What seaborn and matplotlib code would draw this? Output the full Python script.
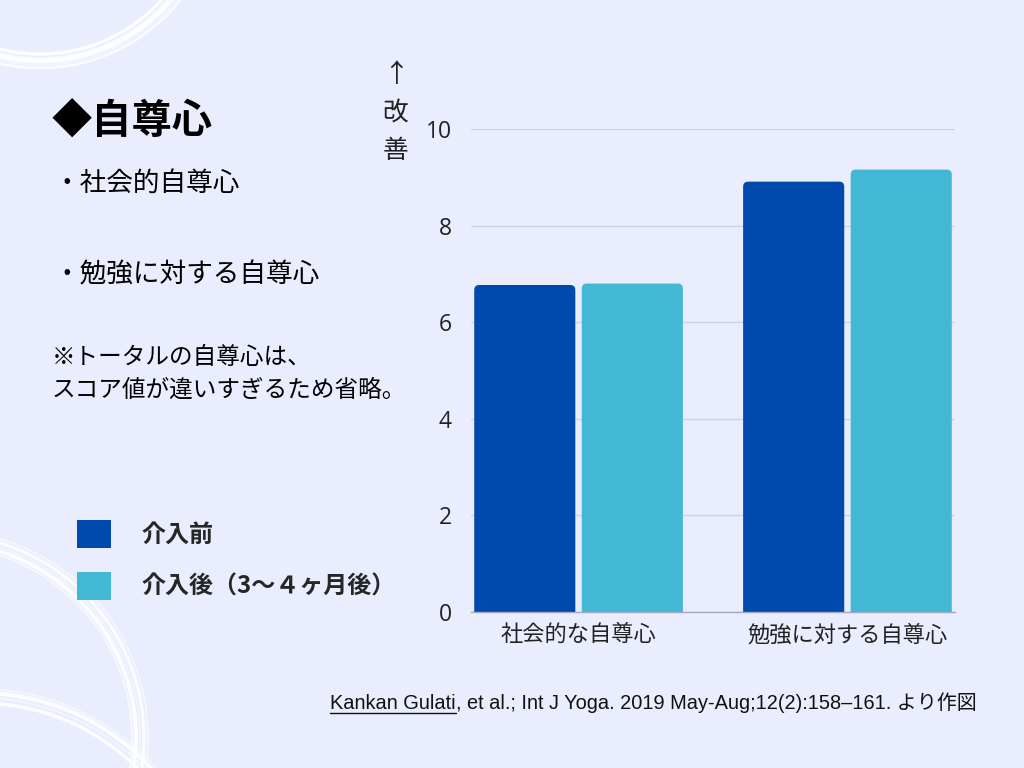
import matplotlib
matplotlib.use("Agg")
import matplotlib.pyplot as plt
import seaborn as sns
import pandas as pd
from matplotlib.patches import Circle, FancyBboxPatch
from matplotlib.lines import Line2D

# ---------------- data ----------------
categories = ["社会的な自尊心", "勉強に対する自尊心"]
series_names = ["介入前", "介入後（3～４ヶ月後）"]
before_values = [6.77, 8.91]
after_values = [6.80, 9.16]
y_ticks = [0, 2, 4, 6, 8, 10]
colors = ["#004aad", "#42b8d5"]

title_text = "◆自尊心"
bullet_1 = "・社会的自尊心"
bullet_2 = "・勉強に対する自尊心"
note_1 = "※トータルの自尊心は、"
note_2 = "スコア値が違いすぎるため省略。"
ylabel_text = "↑\n改\n善"
cite_author = "Kankan Gulati"
cite_rest = ", et al.; Int J Yoga. 2019 May-Aug;12(2):158–161. より作図"

BG = "#e9edfd"
JP = ["Noto Sans CJK JP", "DejaVu Sans"]
CITE = ["Liberation Sans", "Noto Sans CJK JP", "DejaVu Sans"]

sns.set_theme(style="white")
plt.rcParams["font.family"] = JP
plt.rcParams["axes.unicode_minus"] = False

df = pd.DataFrame({
    "category": categories * 2,
    "series": [series_names[0]] * len(categories) + [series_names[1]] * len(categories),
    "value": before_values + after_values,
})

W, H = 1024, 768
fig = plt.figure(figsize=(W / 100, H / 100), dpi=100, facecolor=BG)


def fx(px):
    return px / W


def fy(py):
    return 1 - py / H


# ---------------- decorative brush circles ----------------
deco = fig.add_axes([0, 0, 1, 1], zorder=0)
deco.set_xlim(0, W)
deco.set_ylim(H, 0)
deco.axis("off")
deco.patch.set_alpha(0)

rings = [
    ((40, -110), [164, 168, 171, 175, 178], [2.5, 1.2, 3.5, 1.0, 2.0], [0.9, 0.7, 0.95, 0.6, 0.8]),
    ((-60, 738), [192, 196, 200, 204, 208], [1.2, 3.0, 1.0, 2.5, 1.2], [0.7, 0.9, 0.6, 0.85, 0.6]),
    ((-20, 925), [222, 227, 232, 236], [2.5, 1.0, 3.0, 1.2], [0.85, 0.6, 0.9, 0.6]),
]
for (cx, cy), radii, lws, alphas in rings:
    for r, lw, a in zip(radii, lws, alphas):
        deco.add_patch(Circle((cx, cy), r, fill=False, edgecolor="white", lw=lw, alpha=a))

# ---------------- main bar chart ----------------
ax = fig.add_axes([fx(471), fy(612), 484 / W, 483 / H], zorder=2)
ax.set_facecolor("none")
sns.barplot(data=df, x="category", y="value", hue="series", hue_order=series_names,
            order=categories, palette=colors, saturation=1, width=0.8, gap=0.06,
            errorbar=None, ax=ax, zorder=3, linewidth=0, edgecolor="none")

ax.set_xlim(-0.4, len(categories) - 0.6)
ax.set_ylim(0, 10)
ax.set_yticks(y_ticks, labels=[str(t) for t in y_ticks], fontfamily="Open Sans", fontsize=16.5, color="#222222")
ax.set_xticks(range(len(categories)), labels=categories, fontsize=16, color="#222222")
ax.yaxis.grid(True, color="#cdd3e5", lw=1)
ax.set_axisbelow(True)
for s in ["left", "right", "top"]:
    ax.spines[s].set_visible(False)
ax.spines["bottom"].set_color("#a3a9c0")
ax.spines["bottom"].set_linewidth(1)
ax.spines["bottom"].set_zorder(4)
ax.tick_params(axis="y", length=0, pad=14)
ax.tick_params(axis="x", length=0, pad=8)
ax.set_xlabel("")
ax.set_ylabel(ylabel_text, rotation=0, fontsize=18.5, color="#222222", ha="center", va="center",
              linespacing=1.6)
ax.yaxis.set_label_coords(-0.156, 1.033)

# rounded top corners: rebuild each seaborn bar with the same geometry
p0 = ax.transData.transform((0, 0))
p1 = ax.transData.transform((1, 1))
px_x = p1[0] - p0[0]
px_y = p1[1] - p0[1]
radius_px = 5
rx = radius_px / px_x
ry = radius_px / px_y
for p in list(ax.patches):
    x, y, w, h = p.get_x(), p.get_y(), p.get_width(), p.get_height()
    fc = p.get_facecolor()
    p.remove()
    fb = FancyBboxPatch((x, y - 2 * ry), w, h + 2 * ry,
                        boxstyle=f"round,pad=0,rounding_size={rx}",
                        mutation_aspect=ry / rx, facecolor=fc, edgecolor="none",
                        lw=0, zorder=3, clip_on=True)
    ax.add_patch(fb)

sns.move_legend(ax, "upper left", bbox_to_anchor=(fx(77), fy(520)), bbox_transform=fig.transFigure,
                frameon=False, title=None, prop={"family": JP, "weight": "bold", "size": 17.3},
                handlelength=1.4, handleheight=1.4, handletextpad=1.3, labelspacing=1.0,
                borderpad=0, borderaxespad=0)
for hnd in ax.get_legend().legend_handles:
    hnd.set_edgecolor("none")
    hnd.set_linewidth(0)

# ---------------- left-side texts ----------------
fig.text(fx(52), fy(122), title_text, fontsize=29, fontweight="bold", va="center", ha="left", color="black")
fig.text(fx(53), fy(183), bullet_1, fontsize=19.2, va="center", ha="left", color="black")
fig.text(fx(53), fy(275), bullet_2, fontsize=19.2, va="center", ha="left", color="black")
fig.text(fx(52), fy(358), note_1, fontsize=17, va="center", ha="left", color="black")
fig.text(fx(52), fy(390), note_2, fontsize=17, va="center", ha="left", color="black")

# ---------------- citation with underlined author ----------------
base_py = 709
t1 = fig.text(fx(330), fy(base_py), cite_author, fontsize=14.4, family=CITE, va="baseline", ha="left",
              color="#111111")
fig.canvas.draw()
bb = t1.get_window_extent(fig.canvas.get_renderer())
fig.text(bb.x1 / W, fy(base_py), cite_rest, fontsize=14.4, family=CITE, va="baseline", ha="left",
         color="#111111")
uy = (H - base_py - 4) / H
fig.add_artist(Line2D([bb.x0 / W, bb.x1 / W], [uy, uy], transform=fig.transFigure,
                      color="#111111", lw=1))

fig.savefig("out.png", dpi=100, facecolor=BG)
